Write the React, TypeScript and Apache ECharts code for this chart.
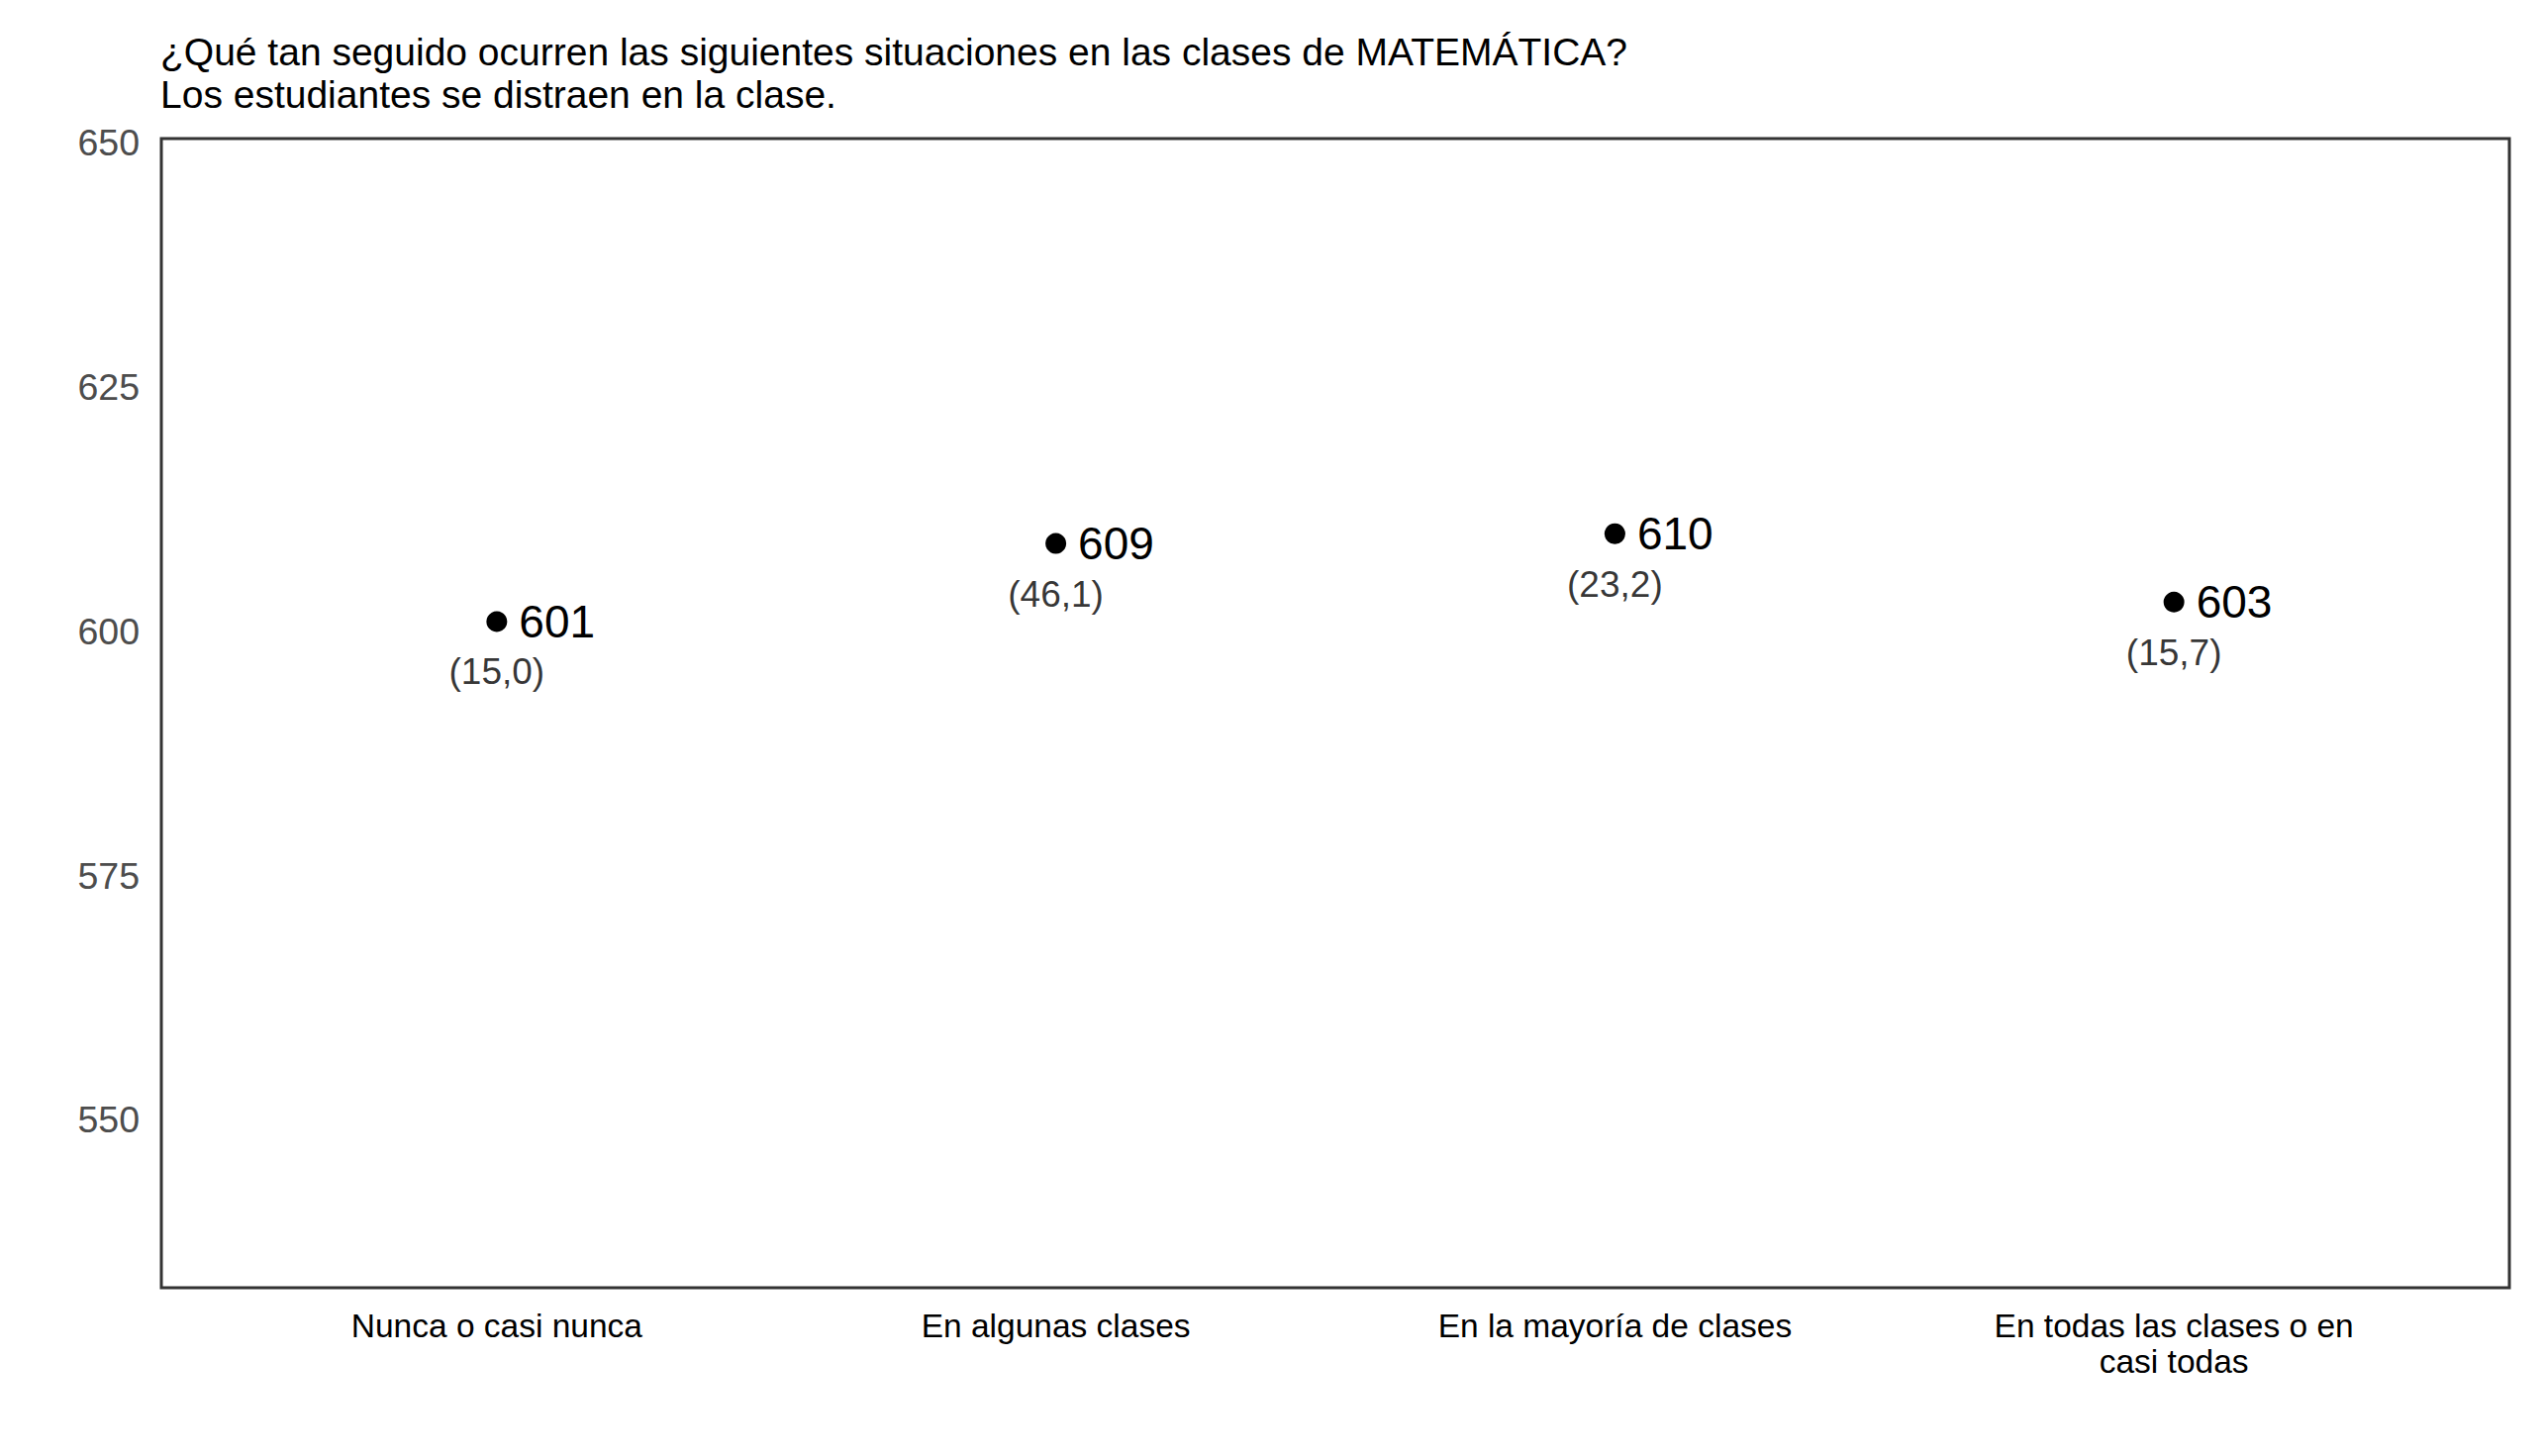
import React, { useEffect, useRef } from "react";
import * as echarts from "echarts";

const titleLines = [
  "¿Qué tan seguido ocurren las siguientes situaciones en las clases de MATEMÁTICA?",
  "Los estudiantes se distraen en la clase.",
];
const categories = [
  "Nunca o casi nunca",
  "En algunas clases",
  "En la mayoría de clases",
  "En todas las clases o en\ncasi todas",
];
const scores = [601, 609, 610, 603];
const seLabels = ["(15,0)", "(46,1)", "(23,2)", "(15,7)"];
const yTicks = [550, 575, 600, 625, 650];
const yMin = 532.8;
const yMax = 650.45;

export default function App() {
  const ref = useRef<HTMLDivElement>(null);
  useEffect(() => {
    document.body.style.margin = "0";
    const chart = echarts.init(ref.current!, null, { renderer: "svg" });
    const data = scores.map((v, i) => [i + 1, v]);
    const font = "'Liberation Sans', Arial, sans-serif";
    chart.setOption({
      animation: false,
      backgroundColor: "#ffffff",
      title: {
        text: titleLines.join("\n"),
        left: 162,
        top: 30.5,
        padding: 0,
        textStyle: {
          fontFamily: font,
          fontSize: 39,
          fontWeight: "normal",
          color: "#000000",
          lineHeight: 43,
        },
      },
      grid: {
        left: 163,
        right: 36,
        top: 140,
        bottom: 170,
        show: true,
        borderColor: "#333333",
        borderWidth: 3,
        backgroundColor: "transparent",
      },
      xAxis: {
        type: "value",
        min: 0.4,
        max: 4.6,
        axisLine: { show: false },
        axisTick: { show: false },
        splitLine: { show: false },
        axisLabel: {
          customValues: [1, 2, 3, 4],
          formatter: (v: number) => categories[Math.round(v) - 1] ?? "",
          fontFamily: font,
          fontSize: 33.5,
          color: "#000000",
          margin: 20,
          lineHeight: 36,
          align: "center",
        },
      },
      yAxis: {
        type: "value",
        min: yMin,
        max: yMax,
        axisLine: { show: false },
        axisTick: { show: false },
        splitLine: { show: false },
        axisLabel: {
          customValues: yTicks,
          fontFamily: font,
          fontSize: 37.5,
          color: "#4D4D4D",
          margin: 22,
        },
      },
      series: [
        {
          type: "scatter",
          data,
          symbolSize: 21,
          itemStyle: { color: "#000000", opacity: 1 },
          label: {
            show: true,
            position: "right",
            distance: 12,
            fontFamily: font,
            fontSize: 46,
            color: "#000000",
            formatter: (p: any) => String(p.value[1]),
          },
          z: 3,
        },
        {
          type: "scatter",
          data,
          symbolSize: 1,
          itemStyle: { color: "rgba(0,0,0,0)" },
          label: {
            show: true,
            position: "inside",
            offset: [0, 51],
            fontFamily: font,
            fontSize: 37,
            color: "#000000",
            formatter: (p: any) => seLabels[p.dataIndex],
          },
          z: 2,
        },
      ],
    });
    return () => chart.dispose();
  }, []);
  return <div ref={ref} style={{ width: 2571, height: 1471 }} />;
}
